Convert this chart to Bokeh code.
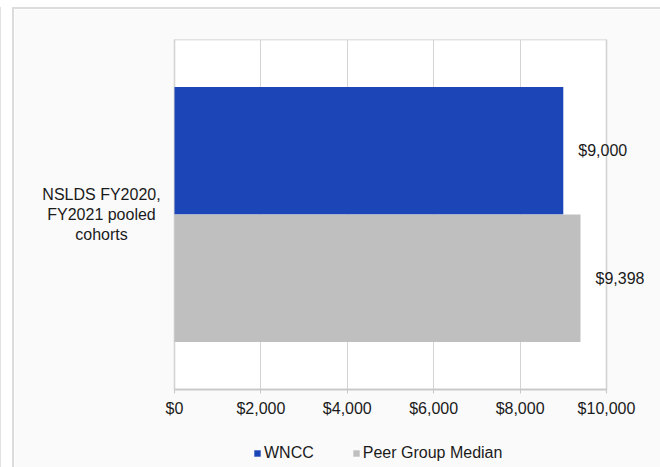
from bokeh.plotting import figure
from bokeh.models import (ColumnDataSource, LabelSet, Legend, LegendItem, FixedTicker,
                          NumeralTickFormatter, Range1d)
from bokeh.core.properties import value
from bokeh.embed import file_html
from bokeh.resources import INLINE

# ---- data ----
categories = ["NSLDS FY2020,\nFY2021 pooled\ncohorts"]
series_names = ["WNCC", "Peer Group Median"]
wncc_values = [9000]
peer_values = [9398]
x_ticks = [0, 2000, 4000, 6000, 8000, 10000]
colors = ["#1c46b8", "#bfbfbf"]

FONT = "Liberation Sans"
TXT = "#1a1a1a"

x_max = x_ticks[-1]
plot_w, plot_h = 432, 350       # size of the white plot area in px
px_per_unit = plot_w / x_max
left_px = 160                    # room left of the $0 line (category label)
right_px = 54                    # room right of the $10,000 line (value labels)
bottom_px = 78                   # room below the plot area (axis labels + legend)
n_cat = len(categories)
cat_pos = [i + 0.5 for i in range(n_cat)]

p = figure(
    x_range=Range1d(-left_px / px_per_unit, (plot_w + right_px) / px_per_unit),
    y_range=Range1d(-bottom_px / plot_h * n_cat, n_cat),
    frame_width=left_px + plot_w + right_px, frame_height=plot_h + bottom_px,
    min_border_left=0, min_border_right=0, min_border_top=30, min_border_bottom=0,
    output_backend="svg", toolbar_location=None,
)
p.styles = {"margin-left": "12px", "margin-top": "7px",
            "border-left": "2px solid #dcdcdc", "border-top": "2px solid #dcdcdc",
            "box-shadow": "-11px 0 0 0 #ffffff, -12px 0 0 0 #e2e2e2"}
p.border_fill_color = "#fafafa"
p.background_fill_color = "#fafafa"
p.outline_line_color = None
p.yaxis.visible = False

# white plot area with grey border
bg = ColumnDataSource(dict(y=cat_pos, right=[x_max] * n_cat))
p.hbar(y="y", left=0, right="right", height=1.0, source=bg, fill_color="white",
       line_color="#c8c8c8", line_width=1.5, level="image")

# category label (centred lines, left of the plot area)
cat_src = ColumnDataSource(dict(y=cat_pos, cat=categories))
p.text(x=-73 / px_per_unit, y="y", text="cat", source=cat_src,
       text_align="center", text_baseline="middle", text_font=value(FONT),
       text_font_size="16px", text_color=TXT, text_line_height=1.15)

bar_h = 0.364
renderers = []
for name, vals, col, off in [(series_names[0], wncc_values, colors[0], bar_h / 2),
                             (series_names[1], peer_values, colors[1], -bar_h / 2)]:
    src = ColumnDataSource(dict(y=[c + off for c in cat_pos], val=vals,
                                txt=[f"${v:,}" for v in vals]))
    r = p.hbar(y="y", right="val", left=0, height=bar_h,
               fill_color=col, line_color=None, source=src)
    renderers.append((name, r))
    lab = LabelSet(x="val", y="y", text="txt", source=src,
                   x_offset=15, text_baseline="middle", text_align="left",
                   text_font=value(FONT), text_font_size=value("16px"), text_color=TXT)
    p.add_layout(lab)

# x axis, drawn at the bottom of the plot area
xa = p.xaxis[0]
xa.fixed_location = 0
xa.ticker = FixedTicker(ticks=x_ticks)
xa.bounds = (0, x_max)
xa.formatter = NumeralTickFormatter(format="$0,0")
xa.axis_line_color = "#c8c8c8"
xa.axis_line_width = 1.5
xa.major_tick_line_color = "#c8c8c8"
xa.major_tick_in = 0
xa.major_tick_out = 4
xa.minor_tick_line_color = None
xa.major_label_standoff = 6
xa.major_label_text_font = FONT
xa.major_label_text_font_size = "16px"
xa.major_label_text_color = TXT

p.xgrid.grid_line_color = "#d4d4d4"
p.xgrid.bounds = (0, x_max)
p.xgrid.cross_bounds = (0, n_cat)
p.ygrid.grid_line_color = None

legend = Legend(items=[LegendItem(label=n, renderers=[r]) for n, r in renderers],
                orientation="horizontal", location=(239, 5))
legend.glyph_width = 8
legend.glyph_height = 8
legend.label_standoff = 3
legend.spacing = 38
legend.padding = 0
legend.margin = 0
legend.border_line_color = None
legend.background_fill_alpha = 0
legend.label_text_font = FONT
legend.label_text_font_size = "16px"
legend.label_text_color = TXT
legend.label_height = 16
p.add_layout(legend, "center")

open("out.html", "w").write(file_html(p, INLINE))
